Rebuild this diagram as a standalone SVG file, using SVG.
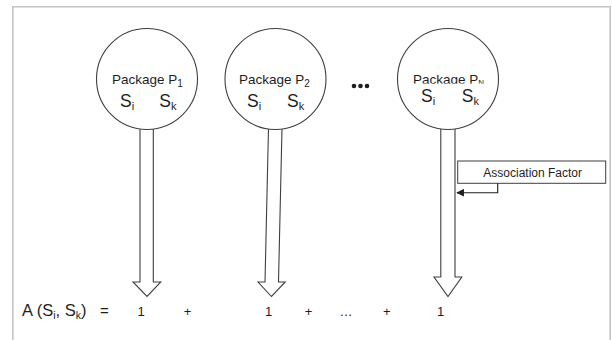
<svg xmlns="http://www.w3.org/2000/svg" width="612" height="340" viewBox="0 0 612 340">
  <style>
    .frame { fill: none; stroke: #c4c4c4; stroke-width: 1.6; }
    .pkg { fill: #ffffff; stroke: #3f3f3f; stroke-width: 1.1; }
    .flow { fill: #ffffff; stroke: #3f3f3f; stroke-width: 1.1; stroke-linejoin: miter; }
    .t { font-family: "Liberation Sans", Arial, sans-serif; fill: #1e1e1e; }
    .lbl { font-size: 13.5px; }
    .sym { font-size: 17.5px; }
    .eq { font-size: 13px; text-anchor: middle; }
    .note { fill: #ffffff; stroke: #3f3f3f; stroke-width: 1; }
    .lead { fill: none; stroke: #1e1e1e; stroke-width: 1.1; }
  </style>
  <defs>
    <marker id="tip" viewBox="0 0 10 10" refX="9" refY="5" markerWidth="7" markerHeight="7" orient="auto">
      <path d="M0,0 L10,5 L0,10 Z" fill="#1e1e1e"/>
    </marker>
  </defs>

  <rect width="612" height="340" fill="#ffffff"/>
  <!-- page border, open at the bottom -->
  <path class="frame" d="M12.8,342 V6.8 H610.2 V342"/>

  <!-- block arrows from each package down to the sum -->
  <g id="connectors">
    <path class="flow" d="M140,128 V282 H133 L147,296.5 L160.8,282 H153.3 V128"/>
    <path class="flow" d="M268.5,128 L265,282 H258 L271.5,296.5 L285.2,282 H278.5 L282,128"/>
    <path class="flow" d="M440.8,128 V277 H434 L448,296.5 L461.8,277 H455 V128"/>
  </g>

  <g id="pkg1">
    <circle class="pkg" cx="147" cy="79" r="50.5"/>
    <text class="t lbl" x="112" y="84.3">Package P<tspan font-size="10" dy="2.5">1</tspan></text>
    <text class="t sym" x="120" y="106.7">S<tspan font-size="11" dy="3">i</tspan></text>
    <text class="t sym" x="159.3" y="106.7">S<tspan font-size="11" dy="3">k</tspan></text>
  </g>

  <g id="pkg2">
    <circle class="pkg" cx="275.5" cy="79" r="50.5"/>
    <text class="t lbl" x="239" y="84.3">Package P<tspan font-size="10" dy="2.5">2</tspan></text>
    <text class="t sym" x="247" y="106.7">S<tspan font-size="11" dy="3">i</tspan></text>
    <text class="t sym" x="287" y="106.7">S<tspan font-size="11" dy="3">k</tspan></text>
  </g>

  <g id="ellipsis">
    <circle cx="354" cy="86" r="2.3" fill="#1e1e1e"/>
    <circle cx="360.5" cy="86" r="2.3" fill="#1e1e1e"/>
    <circle cx="367" cy="86" r="2.3" fill="#1e1e1e"/>
  </g>

  <g id="pkgN">
    <circle class="pkg" cx="448" cy="79" r="50.5"/>
    <text class="t lbl" x="413" y="84.3">Package P<tspan font-size="8" dy="1">N</tspan></text>
    <rect x="414" y="83.6" width="74" height="21" fill="#ffffff"/>
    <text class="t sym" x="421" y="101.7">S<tspan font-size="11" dy="3">i</tspan></text>
    <text class="t sym" x="461.7" y="101.7">S<tspan font-size="11" dy="3">k</tspan></text>
  </g>

  <g id="assoc">
    <rect class="note" x="457.7" y="161" width="148" height="22.3"/>
    <text class="t" x="532.7" y="176.7" font-size="12" text-anchor="middle">Association Factor</text>
    <path class="lead" d="M497.7,183.3 V192.7 H457" marker-end="url(#tip)"/>
  </g>

  <g id="formula">
    <text class="t" x="22" y="316" font-size="16.5">A (S<tspan font-size="10.5" dy="2.5">i</tspan><tspan dy="-2.5">, S</tspan><tspan font-size="10.5" dy="2.5">k</tspan><tspan dy="-2.5">)</tspan></text>
    <text class="t" x="100" y="315.5" font-size="15">=</text>
    <text class="t eq" x="141" y="315.5">1</text>
    <text class="t eq" x="187.5" y="315.5">+</text>
    <text class="t eq" x="268.7" y="315.5">1</text>
    <text class="t eq" x="308.6" y="315.5">+</text>
    <text class="t eq" x="346" y="315.5">…</text>
    <text class="t eq" x="386.7" y="315.5">+</text>
    <text class="t eq" x="440.6" y="315.5">1</text>
  </g>
</svg>
